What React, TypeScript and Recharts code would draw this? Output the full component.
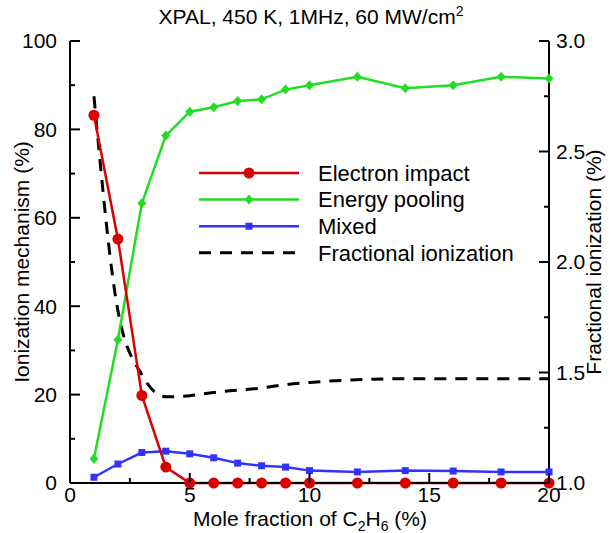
import React from 'react';
import { ComposedChart, Line, XAxis, YAxis, Legend } from 'recharts';

const FONT = '"Liberation Sans", Arial, sans-serif';

const moleFraction = [1, 2, 3, 4, 5, 6, 7, 8, 9, 10, 12, 14, 16, 18, 20];
const electronImpact = [83.2, 55.2, 19.8, 3.6, 0, 0, 0, 0, 0, 0, 0, 0, 0, 0, 0];
const energyPooling = [5.5, 32.4, 63.3, 78.6, 84.0, 85.0, 86.4, 86.8, 89.0, 90.0, 91.9, 89.3, 90.0, 91.9, 91.5];
const mixed = [1.3, 4.3, 6.9, 7.2, 6.6, 5.7, 4.5, 3.9, 3.6, 2.8, 2.5, 2.8, 2.7, 2.5, 2.5];
const fractionalIonization = [2.75, 1.78, 1.49, 1.39, 1.395, 1.41, 1.42, 1.43, 1.445, 1.455, 1.467, 1.472, 1.472, 1.472, 1.472];

const xTicks = [0, 2.5, 5, 7.5, 10, 12.5, 15, 17.5, 20];
const leftTicks = [0, 10, 20, 30, 40, 50, 60, 70, 80, 90, 100];
const rightTicks = [1, 1.25, 1.5, 1.75, 2, 2.25, 2.5, 2.75, 3];

const RED = '#dd0000';
const GREEN = '#22dd22';
const BLUE = '#3333ff';

const data = moleFraction.map((x, i) => ({
  x,
  electron: electronImpact[i],
  pooling: energyPooling[i],
  mixed: mixed[i],
  fraction: fractionalIonization[i],
}));

type Side = 'bottom' | 'top' | 'left' | 'right';

const isMajor = (side: Side, v: number) => {
  if (side === 'left') return v % 20 === 0;
  if (side === 'right') return Math.abs(v * 2 - Math.round(v * 2)) < 1e-6;
  return v % 5 === 0;
};

const makeTick = (side: Side) => (props: any) => {
  const { x, y, payload, index } = props;
  const v = payload.value;
  const major = isMajor(side, v);
  const len = major ? 10 : 5;
  let line;
  let label = null;
  const common = { fontFamily: FONT, fontSize: 21, fill: '#000' };
  if (side === 'bottom') {
    line = <line x1={x} y1={y} x2={x} y2={y - len} stroke="#000" strokeWidth={2} />;
    if (major) label = <text x={x} y={y + 4} dy="0.71em" textAnchor="middle" {...common}>{v}</text>;
  } else if (side === 'top') {
    line = <line x1={x} y1={y} x2={x} y2={y + len} stroke="#000" strokeWidth={2} />;
  } else if (side === 'left') {
    line = <line x1={x} y1={y} x2={x + len} y2={y} stroke="#000" strokeWidth={2} />;
    if (major) label = <text x={x - 13} y={y} dy="0.35em" textAnchor="end" {...common}>{v}</text>;
  } else {
    line = <line x1={x} y1={y} x2={x - len} y2={y} stroke="#000" strokeWidth={2} />;
    if (major) label = <text x={x + 7} y={y} dy="0.35em" textAnchor="start" {...common}>{v.toFixed(1)}</text>;
  }
  return (
    <g key={`${side}-${index}`}>
      {line}
      {label}
    </g>
  );
};

const redDot = (p: any) => <circle key={`r${p.index}`} cx={p.cx} cy={p.cy} r={5.5} fill={RED} />;
const greenDot = (p: any) => (
  <polygon
    key={`g${p.index}`}
    points={`${p.cx},${p.cy - 5} ${p.cx + 4.5},${p.cy} ${p.cx},${p.cy + 5} ${p.cx - 4.5},${p.cy}`}
    fill={GREEN}
  />
);
const blueDot = (p: any) => <rect key={`b${p.index}`} x={p.cx - 3.5} y={p.cy - 3.5} width={7} height={7} fill={BLUE} />;

const legendItems = [
  { name: 'Electron impact', color: RED, marker: 'circle' },
  { name: 'Energy pooling', color: GREEN, marker: 'diamond' },
  { name: 'Mixed', color: BLUE, marker: 'square' },
  { name: 'Fractional ionization', color: '#000', marker: 'dash' },
];

const renderLegend = () => (
  <svg width={350} height={112}>
    {legendItems.map((it, i) => {
      const cy = 15 + i * 26.6;
      const mx = 54;
      return (
        <g key={it.name}>
          <line
            x1={4}
            y1={cy}
            x2={104}
            y2={cy}
            stroke={it.color}
            strokeWidth={it.marker === 'dash' ? 3 : 2.5}
            strokeDasharray={it.marker === 'dash' ? '12 9' : undefined}
          />
          {it.marker === 'circle' && <circle cx={mx} cy={cy} r={5.5} fill={it.color} />}
          {it.marker === 'diamond' && (
            <polygon points={`${mx},${cy - 5} ${mx + 4.5},${cy} ${mx},${cy + 5} ${mx - 4.5},${cy}`} fill={it.color} />
          )}
          {it.marker === 'square' && <rect x={mx - 3.5} y={cy - 3.5} width={7} height={7} fill={it.color} />}
          <text x={123} y={cy} dy="0.35em" fontFamily={FONT} fontSize={22} fill="#000">
            {it.name}
          </text>
        </g>
      );
    })}
  </svg>
);

export default function App() {
  return (
    <div style={{ position: 'absolute', left: 0, top: 0, width: 611, height: 533, background: '#fff' }}>
      <ComposedChart
        width={611}
        height={533}
        data={data}
        margin={{ top: 41, right: 0, bottom: 0, left: 0 }}
      >
        <XAxis
          xAxisId="bottom"
          dataKey="x"
          type="number"
          domain={[0, 20]}
          ticks={xTicks}
          interval={0}
          height={50}
          tickSize={0}
          tickMargin={0}
          tickLine={false}
          axisLine={{ stroke: '#000', strokeWidth: 2 }}
          tick={makeTick('bottom')}
        />
        <XAxis
          xAxisId="top"
          orientation="top"
          dataKey="x"
          type="number"
          domain={[0, 20]}
          ticks={xTicks}
          interval={0}
          height={0}
          tickSize={0}
          tickMargin={0}
          tickLine={false}
          axisLine={{ stroke: '#000', strokeWidth: 2 }}
          tick={makeTick('top')}
        />
        <YAxis
          yAxisId="left"
          type="number"
          domain={[0, 100]}
          ticks={leftTicks}
          interval={0}
          width={70}
          tickSize={0}
          tickMargin={0}
          tickLine={false}
          axisLine={{ stroke: '#000', strokeWidth: 2 }}
          tick={makeTick('left')}
        />
        <YAxis
          yAxisId="right"
          orientation="right"
          type="number"
          domain={[1, 3]}
          ticks={rightTicks}
          interval={0}
          width={62}
          tickSize={0}
          tickMargin={0}
          tickLine={false}
          axisLine={{ stroke: '#000', strokeWidth: 2 }}
          tick={makeTick('right')}
        />
        <Legend
          layout="vertical"
          align="center"
          verticalAlign="middle"
          wrapperStyle={{ left: 195, top: 158, width: 350, height: 112 }}
          content={renderLegend}
        />
        <Line
          xAxisId="bottom"
          yAxisId="right"
          dataKey="fraction"
          type="monotone"
          stroke="#000"
          strokeWidth={3}
          strokeDasharray="12 9"
          dot={false}
          isAnimationActive={false}
        />
        <Line
          xAxisId="bottom"
          yAxisId="left"
          dataKey="pooling"
          type="linear"
          stroke={GREEN}
          strokeWidth={2.5}
          dot={greenDot}
          isAnimationActive={false}
        />
        <Line
          xAxisId="bottom"
          yAxisId="left"
          dataKey="mixed"
          type="linear"
          stroke={BLUE}
          strokeWidth={2.5}
          dot={blueDot}
          isAnimationActive={false}
        />
        <Line
          xAxisId="bottom"
          yAxisId="left"
          dataKey="electron"
          type="linear"
          stroke={RED}
          strokeWidth={2.5}
          dot={redDot}
          isAnimationActive={false}
        />
      </ComposedChart>
      <svg
        width={611}
        height={533}
        style={{ position: 'absolute', left: 0, top: 0, pointerEvents: 'none' }}
        fontFamily={FONT}
        fontSize={21}
      >
        <text x={311} y={24} textAnchor="middle">
          XPAL, 450 K, 1MHz, 60 MW/cm<tspan dy={-8} fontSize={14}>2</tspan>
        </text>
        <text x={310} y={526} textAnchor="middle">
          Mole fraction of C<tspan dy={5} fontSize={14}>2</tspan>
          <tspan dy={-5}>H</tspan>
          <tspan dy={5} fontSize={14}>6</tspan>
          <tspan dy={-5}> (%)</tspan>
        </text>
        <text x={29} y={262} textAnchor="middle" transform="rotate(-90 29 262)">
          Ionization mechanism (%)
        </text>
        <text x={601} y={262} textAnchor="middle" transform="rotate(-90 601 262)">
          Fractional ionization (%)
        </text>
      </svg>
    </div>
  );
}
